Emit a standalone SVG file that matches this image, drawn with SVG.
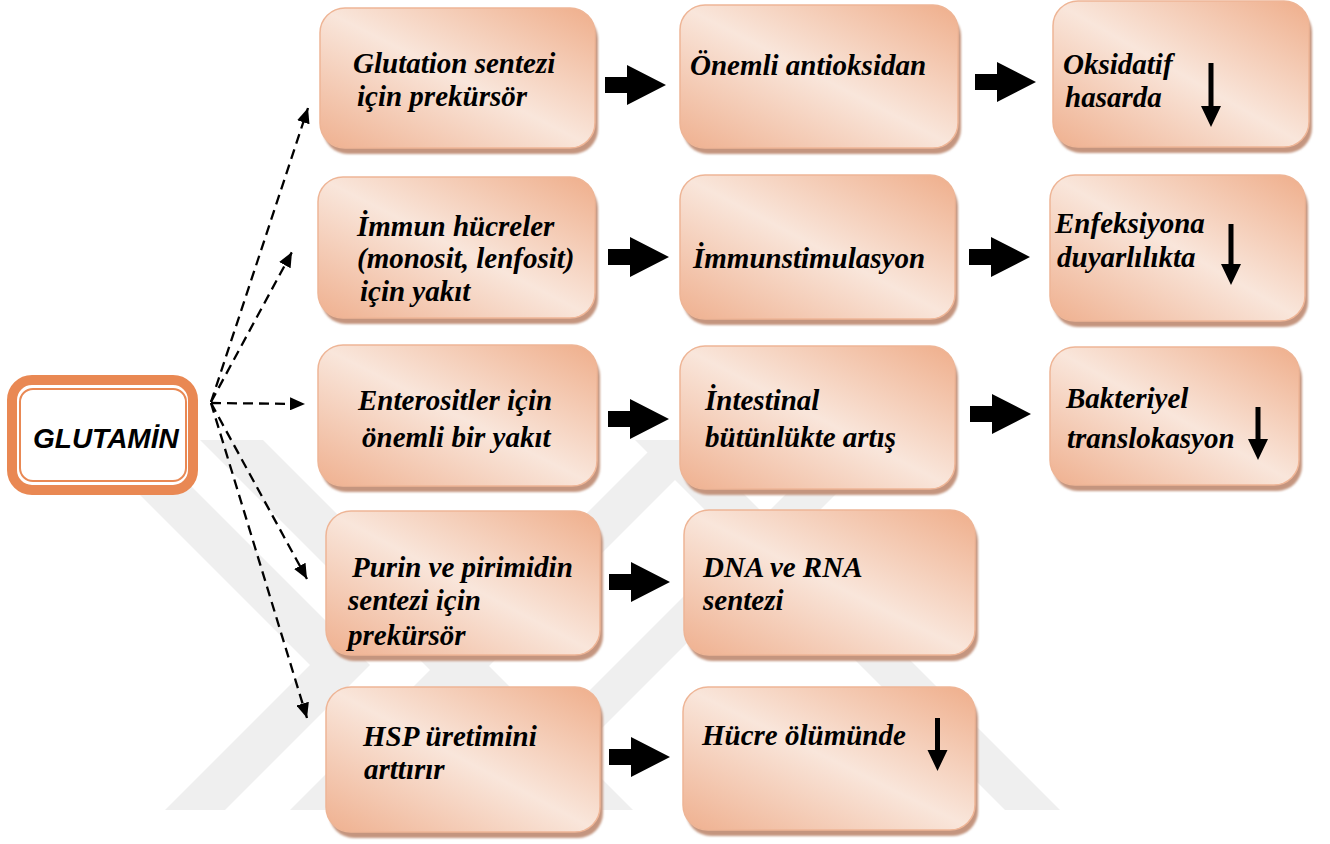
<svg xmlns="http://www.w3.org/2000/svg" width="1330" height="844" viewBox="0 0 1330 844">
<defs>
<style>
.box{fill:url(#g);stroke:#eeb596;stroke-width:1.5}
.sh{fill:#c4957f;filter:url(#blur)}
.t{font-family:"Liberation Serif","Times New Roman",serif;font-weight:bold;font-style:italic;font-size:29px;fill:#000}
.dash{fill:none;stroke:#000;stroke-width:2.3;stroke-dasharray:10 6;marker-end:url(#ah)}
.blk{fill:#000}
.wm{fill:#efefef}
</style>
<linearGradient id="g" x1="1" y1="0" x2="0" y2="1">
<stop offset="0" stop-color="#efae8b"/>
<stop offset="0.5" stop-color="#f9e6db"/>
<stop offset="1" stop-color="#efb08f"/>
</linearGradient>
<filter id="blur" x="-5%" y="-5%" width="110%" height="115%"><feGaussianBlur stdDeviation="1"/></filter>
<marker id="ah" markerWidth="16" markerHeight="13" refX="15" refY="6.5" orient="auto" markerUnits="userSpaceOnUse"><path d="M0,0 L15,6.5 L0,13 Z" fill="#000"/></marker>
<path id="blkarrow" d="M0,-8 H22 V-20 L61,0 L22,20 V8 H0 Z"/>
<clipPath id="wmclip"><rect x="0" y="440" width="1330" height="370"/></clipPath>
</defs>
<rect width="1330" height="844" fill="#fff"/>
<g id="watermark" clip-path="url(#wmclip)">
<polygon class="wm" points="85,440 145,440 370,665 225,810 165,810 310,665"/>
<polygon class="wm" points="200,440 263,440 633,810 570,810"/>
<polygon class="wm" points="290,810 345,810 715,440 660,440"/>
<polygon class="wm" points="470,810 520,810 890,440 840,440"/>
<polygon class="wm" points="635,440 690,440 1060,810 1005,810"/>
</g>
<g id="connectors">
<path class="dash" d="M211,402 L308,108"/>
<path class="dash" d="M211,402 L292,252"/>
<path class="dash" d="M211,403 L305,404"/>
<path class="dash" d="M211,403 L307,579"/>
<path class="dash" d="M211,403 L307,718"/>
<use href="#blkarrow" class="blk" transform="translate(605,85)"/>
<use href="#blkarrow" class="blk" transform="translate(975,82)"/>
<use href="#blkarrow" class="blk" transform="translate(608,257)"/>
<use href="#blkarrow" class="blk" transform="translate(969,257)"/>
<use href="#blkarrow" class="blk" transform="translate(608,419)"/>
<use href="#blkarrow" class="blk" transform="translate(970,414)"/>
<use href="#blkarrow" class="blk" transform="translate(609,582)"/>
<use href="#blkarrow" class="blk" transform="translate(609,757)"/>
</g>
<g id="glutamin">
<rect x="12" y="380" width="181" height="110" rx="20" fill="#fff" stroke="#e98853" stroke-width="10"/>
<rect x="20" y="389" width="166" height="92" rx="13" fill="none" stroke="#e98853" stroke-width="2"/>
<text x="33" y="448" font-family="'Liberation Sans',Arial,sans-serif" font-weight="bold" font-style="italic" font-size="28" fill="#000">GLUTAMİN</text>
</g>
<g id="n-glutation">
<rect class="sh" x="323" y="14" width="275" height="140" rx="25"/>
<rect class="box" x="320" y="8" width="275" height="140" rx="25"/>
<text class="t" x="353" y="73">Glutation sentezi</text>
<text class="t" x="357" y="106">için prekürsör</text>
</g>
<g id="n-antioksidan">
<rect class="sh" x="683" y="11" width="278" height="143" rx="25"/>
<rect class="box" x="680" y="5" width="278" height="143" rx="25"/>
<text class="t" x="690" y="75">Önemli antioksidan</text>
</g>
<g id="n-oksidatif">
<rect class="sh" x="1056" y="7" width="256" height="146" rx="25"/>
<rect class="box" x="1053" y="1" width="256" height="146" rx="25"/>
<text class="t" x="1063" y="74">Oksidatif</text>
<text class="t" x="1065" y="107">hasarda</text>
<path class="blk" d="M1208.5,63 H1213.5 V106 H1221 L1211,127 L1201,106 H1208.5 Z"/>
</g>
<g id="n-immun">
<rect class="sh" x="321" y="183" width="277" height="141" rx="25"/>
<rect class="box" x="318" y="177" width="277" height="141" rx="25"/>
<text class="t" x="357" y="236">İmmun hücreler</text>
<text class="t" x="357" y="268">(monosit, lenfosit)</text>
<text class="t" x="360" y="301">için yakıt</text>
</g>
<g id="n-immunstim">
<rect class="sh" x="683" y="181" width="275" height="144" rx="25"/>
<rect class="box" x="680" y="175" width="275" height="144" rx="25"/>
<text class="t" x="693" y="268">İmmunstimulasyon</text>
</g>
<g id="n-enfeksiyon">
<rect class="sh" x="1053" y="181" width="255" height="146" rx="25"/>
<rect class="box" x="1050" y="175" width="255" height="146" rx="25"/>
<text class="t" x="1055" y="233">Enfeksiyona</text>
<text class="t" x="1057" y="267">duyarlılıkta</text>
<path class="blk" d="M1228.5,224 H1233.5 V264 H1241 L1231,285 L1221,264 H1228.5 Z"/>
</g>
<g id="n-enterosit">
<rect class="sh" x="321" y="351" width="279" height="141" rx="25"/>
<rect class="box" x="318" y="345" width="279" height="141" rx="25"/>
<text class="t" x="358" y="410">Enterositler için</text>
<text class="t" x="362" y="447">önemli bir yakıt</text>
</g>
<g id="n-intestinal">
<rect class="sh" x="683" y="352" width="275" height="143" rx="25"/>
<rect class="box" x="680" y="346" width="275" height="143" rx="25"/>
<text class="t" x="705" y="410">İntestinal</text>
<text class="t" x="705" y="447">bütünlükte artış</text>
</g>
<g id="n-bakteriyel">
<rect class="sh" x="1053" y="353" width="249" height="138" rx="25"/>
<rect class="box" x="1050" y="347" width="249" height="138" rx="25"/>
<text class="t" x="1066" y="408">Bakteriyel</text>
<text class="t" x="1067" y="448">translokasyon</text>
<path class="blk" d="M1255.5,407 H1260.5 V439 H1268 L1258,460 L1248,439 H1255.5 Z"/>
</g>
<g id="n-purin">
<rect class="sh" x="329" y="517" width="274" height="144" rx="25"/>
<rect class="box" x="326" y="511" width="274" height="144" rx="25"/>
<text class="t" x="352" y="577">Purin ve pirimidin</text>
<text class="t" x="348" y="610">sentezi için</text>
<text class="t" x="348" y="645">prekürsör</text>
</g>
<g id="n-dna">
<rect class="sh" x="687" y="516" width="291" height="145" rx="25"/>
<rect class="box" x="684" y="510" width="291" height="145" rx="25"/>
<text class="t" x="703" y="577">DNA ve RNA</text>
<text class="t" x="703" y="610">sentezi</text>
</g>
<g id="n-hsp">
<rect class="sh" x="329" y="693" width="274" height="145" rx="25"/>
<rect class="box" x="326" y="687" width="274" height="145" rx="25"/>
<text class="t" x="363" y="746">HSP üretimini</text>
<text class="t" x="364" y="779">arttırır</text>
</g>
<g id="n-hucre">
<rect class="sh" x="686" y="693" width="292" height="143" rx="25"/>
<rect class="box" x="683" y="687" width="292" height="143" rx="25"/>
<text class="t" x="702" y="745">Hücre ölümünde</text>
<path class="blk" d="M935,718 H940 V750 H947.5 L937.5,771 L927.5,750 H935 Z"/>
</g>
</svg>
